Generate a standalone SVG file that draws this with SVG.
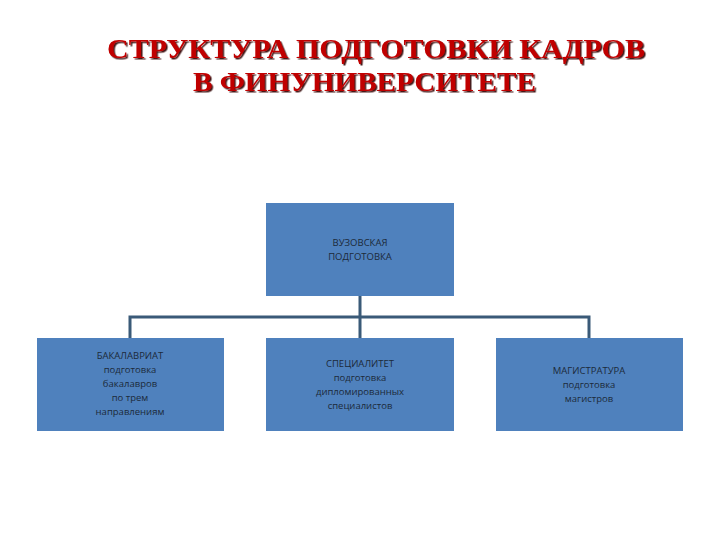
<svg xmlns="http://www.w3.org/2000/svg" width="720" height="540" viewBox="0 0 720 540">
<defs><filter id="sh" x="-5%" y="-20%" width="110%" height="150%"><feDropShadow dx="1.5" dy="1.5" stdDeviation="0.6" flood-color="#300000" flood-opacity="0.9"/></filter></defs>
<style>
.t{font-family:"Liberation Serif",serif;font-weight:bold;font-size:28px;fill:#c00000;filter:url(#sh)}
.box{fill:#4f81bd}
.l{font-family:"Open Sans","Liberation Sans",sans-serif;font-size:9.5px;fill:#1c2a3a;text-anchor:middle}
.c{stroke:#3a5a78;stroke-width:3;fill:none}
</style>
<rect width="720" height="540" fill="#fff"/>
<g id="title">
<text class="t" x="107" y="58" textLength="538" lengthAdjust="spacingAndGlyphs">СТРУКТУРА ПОДГОТОВКИ КАДРОВ</text>
<text class="t" x="193" y="91" textLength="343" lengthAdjust="spacingAndGlyphs">В ФИНУНИВЕРСИТЕТЕ</text>
</g>
<g id="connectors">
<path class="c" d="M360 296V338M130 338V317H589V338"/>
</g>
<g id="root"><rect class="box" x="266" y="203" width="188" height="93"/>
<text class="l" x="360" y="246">ВУЗОВСКАЯ</text><text class="l" x="360" y="260">ПОДГОТОВКА</text></g>
<g id="bak"><rect class="box" x="37" y="338" width="187" height="93"/>
<text class="l" x="130" y="359">БАКАЛАВРИАТ</text><text class="l" x="130" y="373">подготовка</text><text class="l" x="130" y="387">бакалавров</text><text class="l" x="130" y="401">по трем</text><text class="l" x="130" y="415">направлениям</text></g>
<g id="spec"><rect class="box" x="266" y="338" width="188" height="93"/>
<text class="l" x="360" y="367">СПЕЦИАЛИТЕТ</text><text class="l" x="360" y="381">подготовка</text><text class="l" x="360" y="395">дипломированных</text><text class="l" x="360" y="409">специалистов</text></g>
<g id="mag"><rect class="box" x="496" y="338" width="187" height="93"/>
<text class="l" x="589" y="374">МАГИСТРАТУРА</text><text class="l" x="589" y="388">подготовка</text><text class="l" x="589" y="402">магистров</text></g>
</svg>
